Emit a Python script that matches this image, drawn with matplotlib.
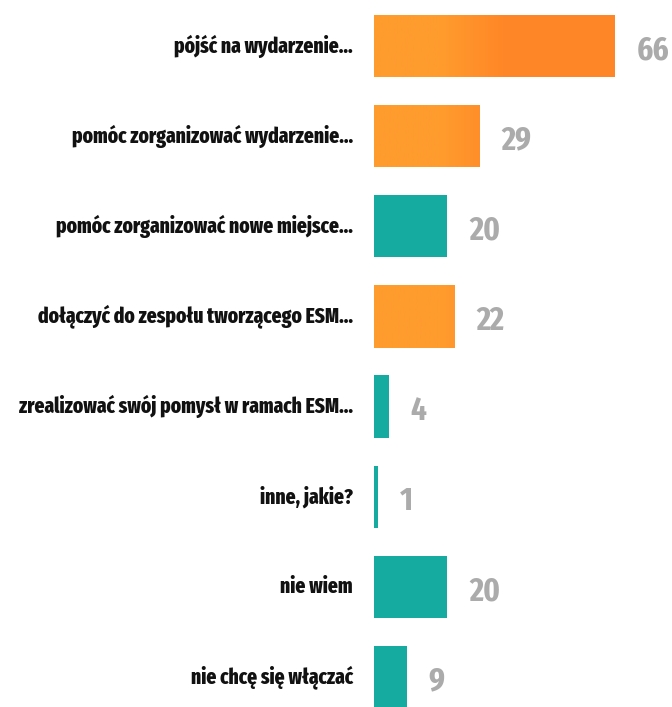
import matplotlib
matplotlib.use("Agg")
import matplotlib.pyplot as plt
import numpy as np
from matplotlib import font_manager as fm
from matplotlib.colors import LinearSegmentedColormap

categories = [
    "pójść na wydarzenie...",
    "pomóc zorganizować wydarzenie...",
    "pomóc zorganizować nowe miejsce...",
    "dołączyć do zespołu tworzącego ESM...",
    "zrealizować swój pomysł w ramach ESM...",
    "inne, jakie?",
    "nie wiem",
    "nie chcę się włączać",
]
values = [66, 29, 20, 22, 4, 1, 20, 9]
groups = ["o", "o", "t", "o", "t", "t", "t", "t"]

ORANGE = "#FF8626"
ORANGE_LIGHT = "#FF9C2E"
TEAL = "#15ABA1"
palette = {"o": ORANGE, "t": TEAL}

names = {f.name for f in fm.fontManager.ttflist}
fam = "DejaVu Sans"
for cand in ["Fira Sans Extra Condensed", "Fira Sans Condensed", "Barlow Condensed"]:
    if cand in names:
        fam = cand
        break

W, H = 672, 707
fig = plt.figure(figsize=(W / 100, H / 100), dpi=100)
ax_left = 374 / W
ax = fig.add_axes([ax_left, 0, 1 - ax_left, 1])
ax.axis("off")

px_per_unit = 3.65
xmax = (W - 374) / px_per_unit
spacing = 90.1
ylo, yhi = 7 + (H - 677) / spacing, -46 / spacing

ypos = list(range(len(categories)))
bars = ax.barh(ypos, values, height=0.69, color=[palette[g] for g in groups],
               edgecolor="none")

# lighter left part of the orange bars (style only)
cmap = LinearSegmentedColormap.from_list("og", [ORANGE_LIGHT, ORANGE_LIGHT, ORANGE])
grad = np.linspace(0, 1, 256)[None, :]
for bar, g in zip(bars, groups):
    if g == "o":
        im = ax.imshow(grad, cmap=cmap, aspect="auto",
                       extent=(0, 36, ylo, yhi), zorder=bar.get_zorder() + 0.1,
                       vmin=0, vmax=1)
        im.set_clip_path(bar)
ax.set_xlim(0, xmax)
ax.set_ylim(ylo, yhi)

for y, v, lab in zip(ypos, values, categories):
    ax.text(v + 22 / px_per_unit, y + 0.05, str(v), ha="left", va="center",
            fontsize=24, fontweight="bold", color="#ABABAB", family=fam)
    ax.annotate(lab, xy=(0, y), xycoords="data", xytext=(-21, 0),
                textcoords="offset pixels", ha="right", va="center",
                fontsize=15.2, fontweight="heavy", color="#111111", family=fam,
                annotation_clip=False)

fig.savefig("out.png", dpi=100)
